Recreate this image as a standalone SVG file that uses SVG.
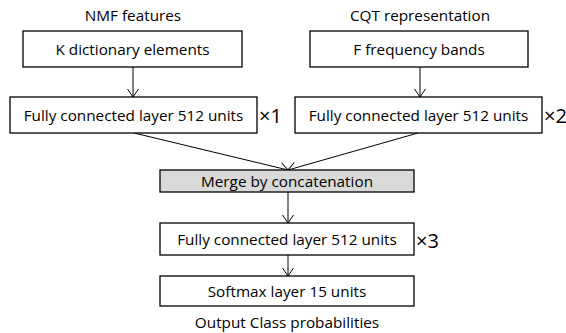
<svg xmlns="http://www.w3.org/2000/svg" width="566" height="333" viewBox="0 0 566 333">
<defs>
<style>
.box{fill:#fff;stroke:#000;stroke-width:1.3}
.grey{fill:#d9d9d9;stroke:#000;stroke-width:1.3}
.t{font-family:"Open Sans","Liberation Sans",sans-serif;font-size:15.3px;fill:#000;text-anchor:middle}
.m{font-family:"Open Sans","Liberation Sans",sans-serif;font-size:20px;fill:#000}
.c{stroke:#000;stroke-width:1;fill:none}
</style>
<marker id="arr" markerWidth="10" markerHeight="12" refX="9" refY="6" orient="auto" markerUnits="userSpaceOnUse">
<path d="M1,0.5 L9,6 L1,11.5" fill="none" stroke="#000" stroke-width="1"/>
</marker>
</defs>
<rect width="566" height="333" fill="#fff"/>
<g id="connectors">
<line class="c" x1="133" y1="67" x2="133" y2="97" marker-end="url(#arr)"/>
<line class="c" x1="420" y1="67" x2="420" y2="97" marker-end="url(#arr)"/>
<line class="c" x1="134" y1="133" x2="288" y2="170" marker-end="url(#arr)"/>
<line class="c" x1="418" y1="133" x2="288" y2="170" marker-end="url(#arr)"/>
<line class="c" x1="288" y1="192" x2="288" y2="223" marker-end="url(#arr)"/>
<line class="c" x1="288" y1="255" x2="288" y2="276" marker-end="url(#arr)"/>
</g>
<g id="nmf-label"><text class="t" x="133" y="21">NMF features</text></g>
<g id="cqt-label"><text class="t" x="420" y="21">CQT representation</text></g>
<g id="k-dict">
<rect class="box" x="23" y="31" width="219" height="36"/>
<text class="t" x="132.5" y="54.5">K dictionary elements</text>
</g>
<g id="f-bands">
<rect class="box" x="310" y="31" width="218" height="36"/>
<text class="t" x="419" y="54.5">F frequency bands</text>
</g>
<g id="fc-left">
<rect class="box" x="10" y="97" width="247" height="36"/>
<text class="t" x="133.5" y="120.5">Fully connected layer 512 units</text>
<text class="m" x="259" y="123">×1</text>
</g>
<g id="fc-right">
<rect class="box" x="295" y="97" width="247" height="36"/>
<text class="t" x="418.5" y="120.5">Fully connected layer 512 units</text>
<text class="m" x="544" y="123">×2</text>
</g>
<g id="merge">
<rect class="grey" x="160" y="170" width="254" height="22"/>
<text class="t" x="287" y="186.5">Merge by concatenation</text>
</g>
<g id="fc3">
<rect class="box" x="160" y="223" width="254" height="32"/>
<text class="t" x="287" y="244.5">Fully connected layer 512 units</text>
<text class="m" x="416" y="248">×3</text>
</g>
<g id="softmax">
<rect class="box" x="160" y="276" width="254" height="30"/>
<text class="t" x="287" y="296.5">Softmax layer 15 units</text>
</g>
<g id="output-label"><text class="t" x="287" y="328">Output Class probabilities</text></g>
</svg>
